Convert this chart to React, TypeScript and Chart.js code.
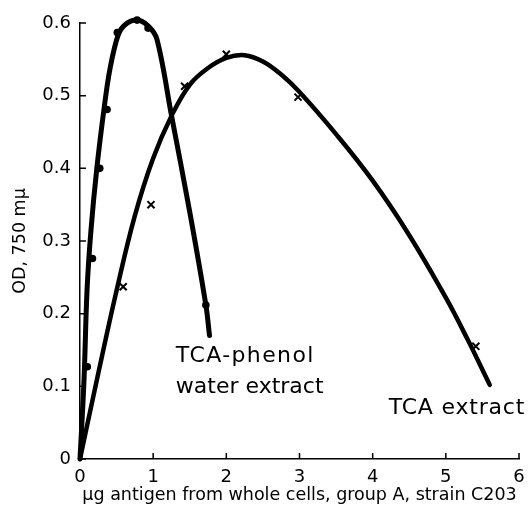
import { useEffect, useRef } from "react";
import { Chart, registerables } from "chart.js";

Chart.register(...registerables);

const FONT = "'DejaVu Sans', sans-serif";

// Axis ticks
const xTicks = [0, 1, 2, 3, 4, 5, 6];
const xTickLabels = ["0", "1", "2", "3", "4", "5", "6"];
const yTicks = [0, 0.1, 0.2, 0.3, 0.4, 0.5, 0.6];
const yTickLabels = ["0", "0.1", "0.2", "0.3", "0.4", "0.5", "0.6"];

// TCA-phenol water extract: measured points (dots)
const phenolX = [0.1, 0.17, 0.27, 0.37, 0.51, 0.78, 0.93, 1.72];
const phenolY = [0.127, 0.276, 0.4, 0.481, 0.587, 0.604, 0.593, 0.212];

// TCA-phenol water extract: drawn curve
const phenolCurveX = [0, 0.055, 0.096, 0.15, 0.23, 0.33, 0.41, 0.52, 0.62, 0.78, 0.93, 1.05, 1.25, 1.5, 1.72, 1.77];
const phenolCurveY = [0, 0.109, 0.232, 0.315, 0.4, 0.483, 0.537, 0.583, 0.598, 0.604, 0.596, 0.578, 0.473, 0.34, 0.212, 0.17];

// TCA extract: measured points (crosses)
const tcaX = [0.59, 0.97, 1.43, 2.0, 2.98, 5.41];
const tcaY = [0.237, 0.35, 0.513, 0.557, 0.498, 0.155];

// TCA extract: drawn curve
const tcaCurveX = [0, 0.25, 0.5, 0.75, 1.0, 1.25, 1.5, 1.75, 2.0, 2.25, 2.5, 2.75, 3.0, 3.5, 4.0, 4.5, 5.0, 5.3, 5.6];
const tcaCurveY = [0, 0.118, 0.232, 0.335, 0.414, 0.472, 0.515, 0.538, 0.552, 0.5557, 0.547, 0.529, 0.505, 0.447, 0.383, 0.308, 0.222, 0.164, 0.102];

// In-plot labels
const labelTexts = ["TCA-phenol", "water extract", "TCA extract"];
const labelX = [1.31, 1.31, 4.22];
const labelY = [0.1334, 0.0908, 0.062];

const xTitle = "\u03bcg antigen from whole cells, group A, strain C203";
const yTitle = "OD, 750 m\u03bc";

const zip = (xs: number[], ys: number[]) => xs.map((x, i) => ({ x, y: ys[i] }));

const labelSpacing = ["1.4px", "0px", "0.8px"];

const innerTicks = {
  id: "innerTicks",
  afterDatasetsDraw(chart: any) {
    const { ctx, scales } = chart;
    const xs = scales.x;
    const ys = scales.y;
    ctx.save();
    ctx.strokeStyle = "#000";
    ctx.lineWidth = 1.5;
    ctx.beginPath();
    xTicks.forEach((v) => {
      const px = xs.getPixelForValue(v);
      ctx.moveTo(px, ys.bottom);
      ctx.lineTo(px, ys.bottom - 6);
    });
    yTicks.forEach((v) => {
      const py = ys.getPixelForValue(v);
      ctx.moveTo(xs.left, py);
      ctx.lineTo(xs.left + 6, py);
    });
    ctx.stroke();
    ctx.restore();
  },
};

const textLabels = {
  id: "textLabels",
  afterDatasetsDraw(chart: any) {
    const { ctx, scales } = chart;
    ctx.save();
    ctx.fillStyle = "#000";
    ctx.font = `22px ${FONT}`;
    ctx.textAlign = "left";
    ctx.textBaseline = "alphabetic";
    labelTexts.forEach((t, i) => {
      (ctx as any).letterSpacing = labelSpacing[i];
      ctx.fillText(t, scales.x.getPixelForValue(labelX[i]), scales.y.getPixelForValue(labelY[i]));
    });
    (ctx as any).letterSpacing = "0px";
    ctx.restore();
  },
};

export default function App() {
  const ref = useRef<HTMLCanvasElement>(null);
  useEffect(() => {
    const canvas = ref.current!;
    const chart = new Chart(canvas, {
      type: "scatter",
      data: {
        datasets: [
          {
            label: "TCA-phenol curve",
            data: zip(phenolCurveX, phenolCurveY),
            showLine: true,
            borderColor: "#000",
            borderWidth: 5,
            borderCapStyle: "round",
            borderJoinStyle: "round",
            pointRadius: 0,
            tension: 0.35,
            clip: false,
          } as any,
          {
            label: "TCA curve",
            data: zip(tcaCurveX, tcaCurveY),
            showLine: true,
            borderColor: "#000",
            borderWidth: 4.5,
            borderCapStyle: "round",
            borderJoinStyle: "round",
            pointRadius: 0,
            tension: 0.4,
            clip: false,
          } as any,
          {
            label: "TCA-phenol points",
            data: zip(phenolX, phenolY),
            showLine: false,
            pointStyle: "circle",
            pointRadius: 3.8,
            backgroundColor: "#000",
            borderColor: "#000",
            borderWidth: 0,
            clip: false,
          } as any,
          {
            label: "TCA points",
            data: zip(tcaX, tcaY),
            showLine: false,
            pointStyle: "crossRot",
            pointRadius: 5,
            borderColor: "#000",
            borderWidth: 2,
            clip: false,
          } as any,
        ],
      },
      options: {
        animation: false,
        responsive: true,
        maintainAspectRatio: false,
        layout: { padding: { left: 0, top: 23, right: 9, bottom: 0 } },
        plugins: { legend: { display: false }, tooltip: { enabled: false } },
        scales: {
          x: {
            type: "linear",
            min: 0,
            max: 6,
            afterBuildTicks: (s: any) => {
              s.ticks = xTicks.map((v) => ({ value: v }));
            },
            afterFit: (s: any) => {
              s.height = 55;
              s.paddingLeft = 0;
              s.paddingRight = 0;
            },
            ticks: {
              callback: (_v: any, i: number) => xTickLabels[i],
              font: { family: FONT, size: 18 },
              color: "#000",
              padding: 8,
              maxRotation: 0,
            },
            grid: { display: true, drawOnChartArea: false, drawTicks: false },
            border: { display: true, color: "#000", width: 1.5 },
            title: {
              display: true,
              text: xTitle,
              font: { family: FONT, size: 17.5 },
              color: "#000",
              padding: { top: 0, bottom: 8 },
            },
          },
          y: {
            type: "linear",
            min: 0,
            max: 0.6,
            afterBuildTicks: (s: any) => {
              s.ticks = yTicks.map((v) => ({ value: v }));
            },
            afterFit: (s: any) => {
              s.width = 80;
              s.paddingTop = 0;
              s.paddingBottom = 0;
            },
            ticks: {
              callback: (_v: any, i: number) => yTickLabels[i],
              font: { family: FONT, size: 18 },
              color: "#000",
              padding: 9,
            },
            grid: { display: true, drawOnChartArea: false, drawTicks: false },
            border: { display: true, color: "#000", width: 1.5 },
            title: {
              display: true,
              text: yTitle,
              font: { family: FONT, size: 17.5 },
              color: "#000",
              padding: { top: 10, bottom: 0 },
            },
          },
        },
      },
      plugins: [innerTicks, textLabels],
    });
    return () => chart.destroy();
  }, []);
  return (
    <div style={{ position: "fixed", left: 0, top: 0, width: 528, height: 514, background: "#fff" }}>
      <canvas ref={ref} />
    </div>
  );
}
